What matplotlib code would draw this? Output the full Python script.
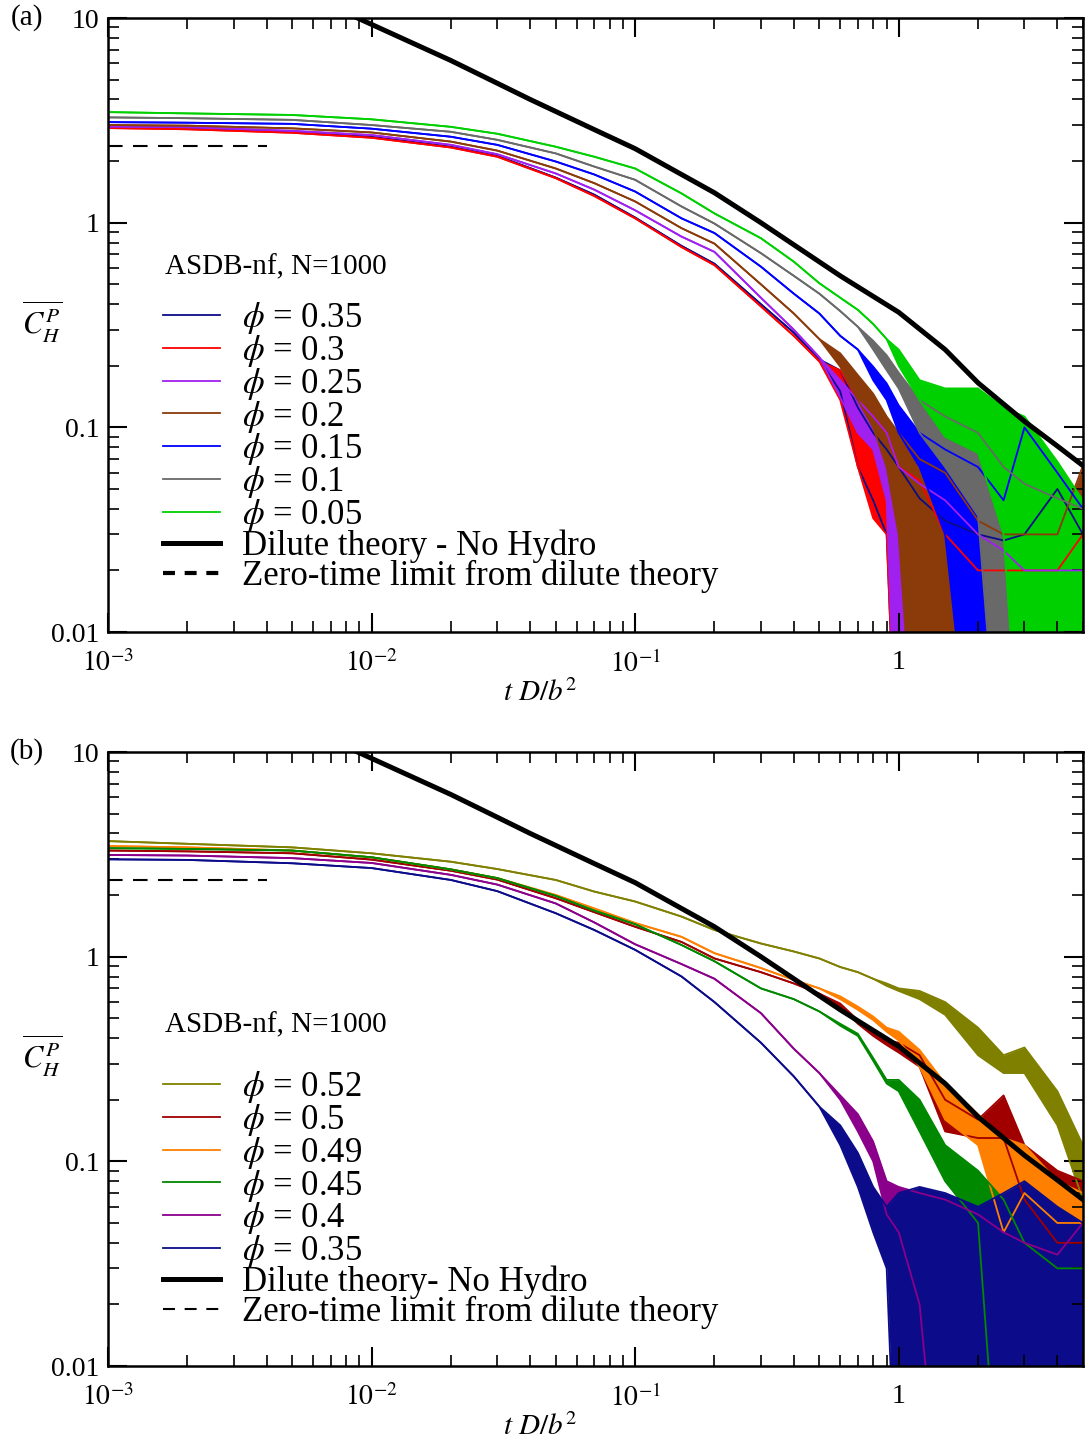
import numpy as np
import matplotlib
matplotlib.use("Agg")
from matplotlib import pyplot as plt
from matplotlib.ticker import LogLocator, NullFormatter

plt.rcParams["font.family"] = ["Liberation Serif", "DejaVu Serif"]
plt.rcParams["mathtext.fontset"] = "stix"

# time grid (t D / b^2) shared by all simulation curves
t_grid = [0.001, 0.002, 0.005, 0.01, 0.02, 0.03, 0.05, 0.07, 0.1, 0.15, 0.2, 0.3, 0.4,
          0.5, 0.6, 0.7, 0.8, 0.9, 1.0, 1.2, 1.5, 2.0, 2.5, 3.0, 4.0, 5.0]
# noisy tail: lower edge of the trace band from t = 0.6 onwards
t_tail = t_grid[14:]

# dilute theory (no hydro) and its zero-time limit
theory_t = [0.00885, 0.02, 0.03, 0.04, 0.07, 0.1, 0.15, 0.2, 0.3, 0.4, 0.6, 1.0, 1.5, 2.0, 3.0, 4.0, 5.0]
theory_c = [10, 6.2, 4.8, 4.0, 2.85, 2.3, 1.72, 1.40, 1.0, 0.78, 0.55, 0.365, 0.24, 0.165, 0.107, 0.081, 0.065]
zero_t = [0.001, 0.004]
zero_c = [2.36, 2.36]

# ---- panel (a) ----
phi_a = ["0.35", "0.3", "0.25", "0.2", "0.15", "0.1", "0.05"]
colors_a = ["#0c0c8a", "#ff0000", "#a020f0", "#8b3a0a", "#0000ff", "#696969", "#00d000"]
upper_a = [
    [2.95, 2.92, 2.78, 2.63, 2.35, 2.12, 1.66, 1.37, 1.06, 0.77, 0.63, 0.40, 0.29, 0.215,
     0.19, 0.125, 0.094, 0.078, 0.064, 0.045, 0.035, 0.03, 0.028, 0.03, 0.05, 0.03],
    [2.90, 2.86, 2.75, 2.60, 2.33, 2.10, 1.65, 1.35, 1.05, 0.76, 0.62, 0.39, 0.28, 0.21,
     0.19, 0.136, 0.113, 0.094, 0.064, 0.055, 0.03, 0.02, 0.02, 0.02, 0.02, 0.03],
    [2.95, 2.93, 2.81, 2.68, 2.40, 2.16, 1.74, 1.45, 1.15, 0.855, 0.72, 0.43, 0.30, 0.22,
     0.17, 0.136, 0.113, 0.094, 0.064, 0.053, 0.044, 0.03, 0.025, 0.02, 0.02, 0.02],
    [3.00, 2.98, 2.89, 2.76, 2.49, 2.25, 1.84, 1.56, 1.27, 0.94, 0.79, 0.50, 0.36, 0.27,
     0.23, 0.18, 0.146, 0.113, 0.094, 0.07, 0.06, 0.035, 0.03, 0.03, 0.03, 0.065],
    [3.10, 3.08, 3.04, 2.88, 2.63, 2.40, 1.99, 1.72, 1.42, 1.05, 0.89, 0.61, 0.45, 0.36,
     0.28, 0.24, 0.198, 0.164, 0.128, 0.094, 0.078, 0.064, 0.044, 0.10, 0.06, 0.04],
    [3.27, 3.24, 3.18, 3.00, 2.78, 2.54, 2.18, 1.88, 1.62, 1.20, 0.99, 0.71, 0.55, 0.45,
     0.37, 0.31, 0.265, 0.225, 0.185, 0.136, 0.113, 0.094, 0.064, 0.053, 0.045, 0.04],
    [3.47, 3.42, 3.36, 3.20, 2.94, 2.72, 2.35, 2.10, 1.84, 1.39, 1.11, 0.84, 0.645, 0.506,
     0.43, 0.375, 0.32, 0.27, 0.24, 0.17, 0.155, 0.155, 0.125, 0.113, 0.068, 0.044],
]
lower_a = [
    [0.15, 0.064, 0.044, 0.03, 0.001, 0.001, 0.001, 0.001, 0.001, 0.001, 0.001, 0.001],
    [0.136, 0.064, 0.036, 0.03, 0.001, 0.001, 0.001, 0.001, 0.001, 0.001, 0.001, 0.001],
    [0.14, 0.094, 0.078, 0.044, 0.001, 0.001, 0.001, 0.001, 0.001, 0.001, 0.001, 0.001],
    [0.198, 0.136, 0.10, 0.064, 0.03, 0.001, 0.001, 0.001, 0.001, 0.001, 0.001, 0.001],
    [0.28, 0.24, 0.17, 0.136, 0.094, 0.064, 0.03, 0.001, 0.001, 0.001, 0.001, 0.001],
    [0.37, 0.31, 0.24, 0.19, 0.155, 0.094, 0.064, 0.037, 0.001, 0.001, 0.001, 0.001],
    [0.43, 0.375, 0.32, 0.27, 0.20, 0.136, 0.09, 0.075, 0.03, 0.001, 0.001, 0.001],
]

# ---- panel (b) ----
phi_b = ["0.52", "0.5", "0.49", "0.45", "0.4", "0.35"]
colors_b = ["#808000", "#a00000", "#ff7f00", "#008800", "#8b008b", "#0c0c8a"]
upper_b = [
    [3.67, 3.56, 3.42, 3.20, 2.91, 2.68, 2.37, 2.08, 1.86, 1.57, 1.35, 1.16, 1.06, 0.98,
     0.89, 0.84, 0.78, 0.74, 0.70, 0.68, 0.60, 0.45, 0.33, 0.36, 0.22, 0.12],
    [3.30, 3.27, 3.20, 2.98, 2.63, 2.38, 1.93, 1.65, 1.40, 1.18, 0.98, 0.84, 0.74, 0.66,
     0.59, 0.49, 0.43, 0.39, 0.38, 0.33, 0.20, 0.16, 0.21, 0.12, 0.09, 0.08],
    [3.47, 3.42, 3.30, 3.06, 2.67, 2.42, 2.00, 1.72, 1.46, 1.25, 1.04, 0.88, 0.77, 0.70,
     0.64, 0.57, 0.51, 0.45, 0.43, 0.35, 0.24, 0.17, 0.13, 0.12, 0.08, 0.07],
    [3.39, 3.36, 3.30, 3.06, 2.67, 2.42, 1.98, 1.68, 1.44, 1.14, 0.95, 0.70, 0.62, 0.54,
     0.47, 0.42, 0.32, 0.25, 0.25, 0.20, 0.12, 0.09, 0.065, 0.04, 0.03, 0.03],
    [3.14, 3.12, 3.03, 2.87, 2.51, 2.25, 1.82, 1.47, 1.15, 0.92, 0.78, 0.53, 0.355, 0.27,
     0.21, 0.17, 0.125, 0.08, 0.075, 0.07, 0.065, 0.055, 0.045, 0.04, 0.035, 0.05],
    [2.99, 2.97, 2.86, 2.71, 2.37, 2.09, 1.63, 1.35, 1.08, 0.80, 0.60, 0.38, 0.26, 0.185,
     0.15, 0.11, 0.075, 0.06, 0.07, 0.075, 0.07, 0.06, 0.07, 0.08, 0.06, 0.05],
]
lower_b = [
    [0.89, 0.84, 0.78, 0.72, 0.68, 0.62, 0.52, 0.33, 0.27, 0.27, 0.15, 0.065],
    [0.57, 0.47, 0.41, 0.37, 0.34, 0.29, 0.14, 0.13, 0.13, 0.065, 0.04, 0.04],
    [0.62, 0.55, 0.49, 0.43, 0.39, 0.29, 0.16, 0.12, 0.045, 0.07, 0.05, 0.05],
    [0.46, 0.41, 0.31, 0.24, 0.22, 0.14, 0.08, 0.05, 0.001, 0.001, 0.001, 0.001],
    [0.20, 0.14, 0.10, 0.055, 0.045, 0.02, 0.001, 0.001, 0.001, 0.001, 0.001, 0.001],
    [0.12, 0.075, 0.045, 0.03, 0.001, 0.001, 0.001, 0.001, 0.001, 0.001, 0.001, 0.001],
]


def draw_panel(ax, phis, colors, uppers, lowers, theory_label, legend_top, title_y, dash_lw):
    t = np.array(t_grid)
    handles = []
    for phi, col, up, lo_tail in zip(phis, colors, uppers, lowers):
        up = np.array(up)
        lo = up.copy()
        lo[len(t) - len(lo_tail):] = lo_tail
        ax.fill_between(t, lo, up, color=col, linewidth=0)
        ax.plot(t, lo, color=col, lw=1.3)
        line, = ax.plot(t, up, color=col, lw=1.3, label=rf"$\phi$ = {phi}")
        handles.append(line)

    th, = ax.plot(theory_t, theory_c, color="black", lw=3.6, zorder=10, label=theory_label)
    zr, = ax.plot(zero_t, zero_c, color="black", lw=1.5, dashes=(7, 5))
    handles.append(th)
    # legend key for the zero-time limit: three dashes, heavier in (a)
    zr_key, = ax.plot([], [], color="black", lw=dash_lw, dashes=(8.6 / dash_lw, 7.0 / dash_lw),
                      label="Zero-time limit from dilute theory")
    handles.append(zr_key)

    ax.set_xscale("log")
    ax.set_yscale("log")
    ax.set_xlim(1e-3, 5.0)
    ax.set_ylim(0.01, 10)
    ax.set_xticks([1e-3, 1e-2, 1e-1, 1])
    ax.set_xticklabels([r"$10^{-3}$", r"$10^{-2}$", r"$10^{-1}$", "1"])
    ax.set_yticks([0.01, 0.1, 1, 10])
    ax.set_yticklabels(["0.01", "0.1", "1", "10"])
    ax.xaxis.set_minor_locator(LogLocator(base=10, subs=np.arange(2, 10), numticks=20))
    ax.yaxis.set_minor_locator(LogLocator(base=10, subs=np.arange(2, 10), numticks=20))
    ax.xaxis.set_minor_formatter(NullFormatter())
    ax.yaxis.set_minor_formatter(NullFormatter())
    ax.tick_params(which="both", direction="in", top=True, right=True, labelsize=20)
    ax.tick_params(which="major", length=14, width=1.5)
    ax.tick_params(which="minor", length=8, width=1.2)
    ax.tick_params(axis="x", which="major", pad=13)
    ax.tick_params(axis="y", which="major", pad=6)
    for sp in ax.spines.values():
        sp.set_linewidth(1.8)

    ax.set_xlabel(r"$t\ D/b^2$", fontsize=21)
    ax.xaxis.set_label_coords(0.443, -0.077)
    ax.set_ylabel(r"$\overline{C_H^P}$", fontsize=22, rotation=0, va="center")
    ax.yaxis.set_label_coords(-0.068, 0.505)

    ax.text(0.058, title_y, "ASDB-nf, N=1000", transform=ax.transAxes,
            fontsize=21, va="center", ha="left")
    ax.legend(handles=handles, loc="upper left", bbox_to_anchor=(0.056, legend_top),
              frameon=False, fontsize=25, borderpad=0, borderaxespad=0,
              handlelength=1.65, handletextpad=0.65, labelspacing=-0.095)


fig = plt.figure(figsize=(10.85, 14.42), dpi=100)
ax_a = fig.add_axes([0.0995, 0.5617, 0.8986, 0.4258])
ax_b = fig.add_axes([0.0995, 0.0527, 0.8986, 0.4258])

draw_panel(ax_a, phi_a, colors_a, upper_a, lower_a, "Dilute theory - No Hydro", 0.540, 0.5945, 3.0)
draw_panel(ax_b, phi_b, colors_b, upper_b, lower_b, "Dilute theory- No Hydro", 0.483, 0.5554, 1.5)

fig.text(0.025, 1 - 18 / 1442, "(a)", fontsize=21, va="center", ha="center")
fig.text(0.025, 1 - 752 / 1442, "(b)", fontsize=21, va="center", ha="center")

fig.savefig("out.png", dpi=100)
